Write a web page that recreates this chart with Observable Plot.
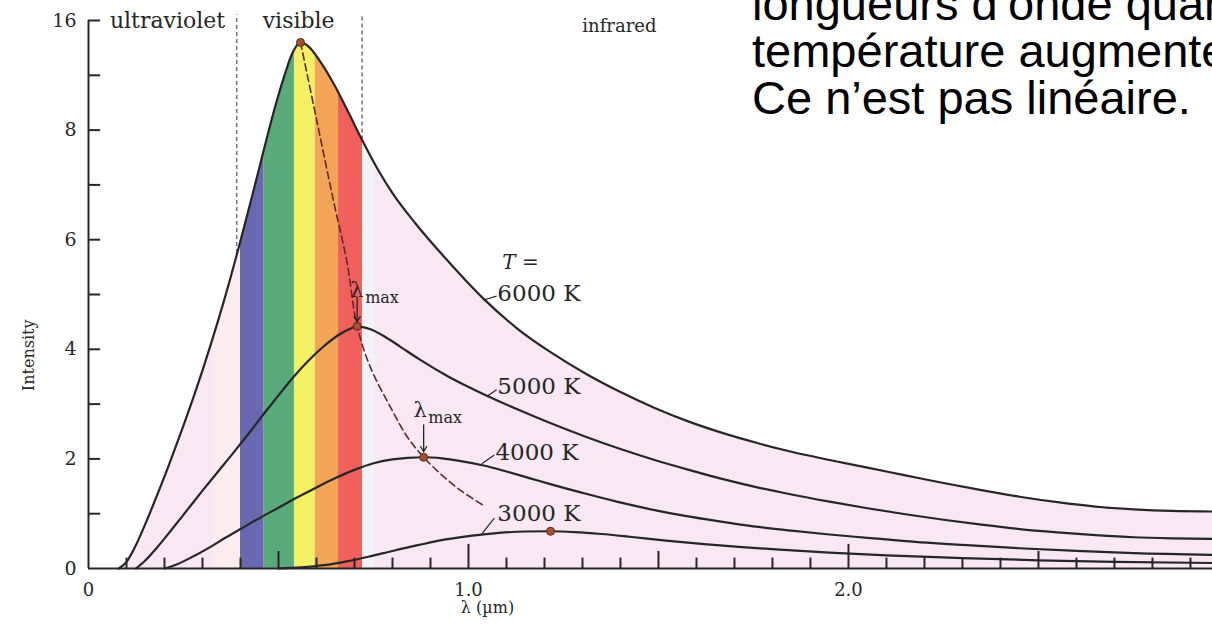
<!DOCTYPE html>
<html><head><meta charset="utf-8">
<script src="https://cdn.jsdelivr.net/npm/d3@7"></script>
<script src="https://cdn.jsdelivr.net/npm/@observablehq/plot@0.6"></script>
<style>
html,body{margin:0;padding:0;background:#fff;overflow:hidden;width:1212px;height:628px;}
#wrap{position:relative;width:1212px;height:628px;overflow:hidden;}
#note{position:absolute;left:752px;top:-20px;font-family:"Liberation Sans",Arial,sans-serif;font-size:47px;line-height:47px;color:#000;white-space:nowrap;}
</style></head><body>
<div id="wrap"><div id="chart"></div>
<div id="note"><div>longueurs d’onde quand la</div><div>température augmente.</div><div>Ce n’est pas linéaire.</div></div>
</div>
<script>
// ---- data: [wavelength (µm), intensity] ----
const curve6000 = [[0.08,0],[0.10,0.12],[0.12,0.36],[0.15,0.82],[0.18,1.33],[0.21,1.86],[0.24,2.42],[0.28,3.2],[0.32,4.05],[0.36,4.97],[0.40,5.98],[0.43,6.78],[0.46,7.6],[0.49,8.4],[0.515,8.98],[0.535,9.38],[0.558,9.6],[0.58,9.52],[0.61,9.25],[0.645,8.85],[0.68,8.38],[0.72,7.82],[0.76,7.3],[0.80,6.85],[0.86,6.3],[0.95,5.58],[1.04,4.92],[1.13,4.37],[1.22,3.93],[1.31,3.55],[1.40,3.22],[1.49,2.93],[1.58,2.68],[1.67,2.47],[1.76,2.29],[1.85,2.13],[1.95,1.98],[2.05,1.84],[2.15,1.70],[2.25,1.56],[2.35,1.43],[2.45,1.31],[2.55,1.21],[2.65,1.13],[2.75,1.08],[2.85,1.05],[2.96,1.04]];
const curve5000 = [[0.125,0],[0.15,0.15],[0.18,0.38],[0.22,0.72],[0.26,1.07],[0.30,1.42],[0.34,1.76],[0.38,2.1],[0.42,2.45],[0.46,2.81],[0.50,3.16],[0.54,3.5],[0.58,3.8],[0.62,4.06],[0.66,4.27],[0.69,4.38],[0.707,4.42],[0.74,4.37],[0.78,4.23],[0.82,4.05],[0.87,3.82],[0.95,3.49],[1.04,3.18],[1.13,2.9],[1.22,2.64],[1.31,2.4],[1.40,2.18],[1.49,1.98],[1.58,1.8],[1.67,1.63],[1.76,1.48],[1.85,1.35],[1.95,1.22],[2.05,1.1],[2.15,0.99],[2.25,0.89],[2.35,0.8],[2.45,0.72],[2.55,0.66],[2.65,0.61],[2.75,0.57],[2.85,0.55],[2.96,0.54]];
const curve4000 = [[0.20,0],[0.23,0.07],[0.27,0.2],[0.32,0.39],[0.36,0.56],[0.40,0.72],[0.45,0.92],[0.50,1.11],[0.55,1.3],[0.60,1.48],[0.65,1.65],[0.70,1.8],[0.75,1.92],[0.80,1.99],[0.84,2.02],[0.882,2.03],[0.93,2.01],[0.98,1.96],[1.04,1.88],[1.10,1.77],[1.16,1.65],[1.22,1.53],[1.30,1.38],[1.39,1.22],[1.48,1.08],[1.57,0.96],[1.66,0.86],[1.75,0.77],[1.85,0.69],[1.95,0.62],[2.05,0.56],[2.15,0.5],[2.30,0.43],[2.45,0.37],[2.60,0.32],[2.75,0.28],[2.96,0.25]];
const curve3000 = [[0.50,0],[0.56,0.02],[0.62,0.06],[0.68,0.13],[0.74,0.22],[0.80,0.32],[0.87,0.43],[0.94,0.53],[1.01,0.6],[1.08,0.65],[1.15,0.675],[1.216,0.68],[1.28,0.665],[1.35,0.63],[1.43,0.575],[1.52,0.51],[1.62,0.445],[1.72,0.39],[1.83,0.34],[1.95,0.29],[2.1,0.24],[2.3,0.19],[2.5,0.15],[2.7,0.12],[2.96,0.1]];
const lambdaMaxPath = [[0.558,9.6],[0.60,8.2],[0.645,6.7],[0.68,5.6],[0.707,4.42],[0.742,3.67],[0.795,2.94],[0.84,2.39],[0.882,2.03],[0.926,1.73],[0.98,1.42],[1.04,1.15]];
const peaks = [[0.558,9.6],[0.707,4.42],[0.882,2.03],[1.216,0.68]];
const temperatures = ["6000 K","5000 K","4000 K","3000 K"];
const bandEdges = [0.40,0.461,0.542,0.597,0.658,0.721];
const bandNames = ["violet","green","yellow","orange","red"];
const regionBounds = [0.39,0.72];
const regionNames = ["ultraviolet","visible","infrared"];
const yTickValues = [0,2,4,6,8,10];
const yTickLabels = ["0","2","4","6","8","16"];
const xTickValues = [0,1,2,3];
const xTickLabels = ["0","1.0","2.0","3.0"];

// ---- styles ----
const bandColor = {violet:"#6b68b2", green:"#59ab7a", yellow:"#f3f064", orange:"#f4a457", red:"#f0615d"};
const ink = "#262626";
const X = d => d[0], Y = d => d[1];
const sm = "monotone-x";

const bands = bandNames.map((n,i)=>({n, x1:bandEdges[i], x2:bandEdges[i+1]}));
const xMinor = d3.range(1,30).map(i=>({v:i/10, len: i%10===0 ? 0.44 : (i%5===0 ? 0.31 : 0.19)}));
const yMinor = d3.range(1,11);
const tlab = [
  {x:1.076, y:5.02, lx1:1.074, ly1:4.97, lx2:1.040, ly2:4.90},
  {x:1.076, y:3.31, lx1:1.074, ly1:3.26, lx2:1.050, ly2:3.15},
  {x:1.071, y:2.12, lx1:1.068, ly1:2.07, lx2:1.035, ly2:1.91},
  {x:1.076, y:1.00, lx1:1.068, ly1:0.92, lx2:1.035, ly2:0.63}
].map((d,i)=>({...d, t: temperatures[i]}));

const chart = Plot.plot({
  width:1212, height:628,
  marginLeft:88, marginRight:0, marginTop:20, marginBottom:60,
  x:{domain:[0,2.958], axis:null},
  y:{domain:[0,10], axis:null},
  color:{type:"identity"},
  style:{fontFamily:"'DejaVu Serif', serif", background:"transparent", color:ink},
  marks:[
    Plot.areaY(curve6000,{x:X, y:Y, fill:"#f9e8f4", curve:sm}),
    Plot.rectY([{x1:0.33,x2:0.40}],{x1:"x1",x2:"x2",y1:0,y2:10,fill:"#fcebef"}),
    Plot.rectY([{x1:0.721,x2:0.755}],{x1:"x1",x2:"x2",y1:0,y2:10,fill:"#f3f2f8"}),
    Plot.rectY(bands,{x1:"x1", x2:"x2", y1:0, y2:10, fill:d=>bandColor[d.n]}),
    Plot.areaY(curve6000,{x:X, y1:Y, y2:10.4, fill:"white", curve:sm}),
    // region boundaries
    Plot.ruleX(regionBounds,{x:d=>d, y1:(d,i)=>i===0?5.75:7.82, y2:10.1, stroke:"#777", strokeWidth:1.6, strokeDasharray:"4,3"}),
    // axes lines and inward ticks
    Plot.ruleX([0],{y1:0, y2:10, stroke:ink, strokeWidth:2}),
    Plot.ruleY([0],{x1:0, x2:2.958, stroke:ink, strokeWidth:2}),
    Plot.ruleY(yMinor,{y:d=>d, x1:0, x2:0.032, stroke:ink, strokeWidth:2}),
    Plot.ruleX(xMinor,{x:"v", y1:0, y2:"len", stroke:ink, strokeWidth:2}),
    Plot.axisY(yTickValues,{anchor:"left", tickSize:0, tickPadding:12, fontSize:19, label:null, tickFormat:d=>yTickLabels[yTickValues.indexOf(d)]}),
    Plot.axisX(xTickValues,{anchor:"bottom", tickSize:0, tickPadding:15, fontSize:18, label:null, tickFormat:d=>xTickLabels[xTickValues.indexOf(d)]}),
    Plot.text(["λ (µm)"],{x:1.05, y:0, dy:39, text:d=>d, fontSize:16, fill:ink}),
    Plot.text(["Intensity"],{x:-0.158, y:3.89, text:d=>d, rotate:-90, fontSize:16, fill:ink}),
    // curves
    Plot.line(curve6000,{x:X, y:Y, stroke:ink, strokeWidth:2.2, curve:sm}),
    Plot.line(curve5000,{x:X, y:Y, stroke:ink, strokeWidth:2.2, curve:sm}),
    Plot.line(curve4000,{x:X, y:Y, stroke:ink, strokeWidth:2.2, curve:sm}),
    Plot.line(curve3000,{x:X, y:Y, stroke:ink, strokeWidth:2.2, curve:sm}),
    Plot.line(lambdaMaxPath,{x:X, y:Y, stroke:"#5e2a22", strokeWidth:1.6, strokeDasharray:"7,4", curve:"catmull-rom"}),
    Plot.dot(peaks,{x:X, y:Y, r:4, fill:"#a5502f", stroke:"#5a2a1a", strokeWidth:1}),
    // λmax annotations
    Plot.arrow([{x:0.707,y1:4.95,y2:4.5},{x:0.882,y1:2.62,y2:2.13}],{x1:"x", x2:"x", y1:"y1", y2:"y2", stroke:ink, strokeWidth:1.3, headLength:7}),
    Plot.text([{x:0.689,y:5.08},{x:0.855,y:2.89}],{x:"x", y:"y", text:()=>"λ", textAnchor:"start", fontSize:21, fill:ink}),
    Plot.text([{x:0.728,y:4.93},{x:0.894,y:2.74}],{x:"x", y:"y", text:()=>"max", textAnchor:"start", fontSize:16, fill:ink}),
    // temperature labels
    Plot.text(["T ="],{x:1.089, y:5.59, text:d=>d, textAnchor:"start", fontSize:20, fontStyle:"italic", fill:ink}),
    Plot.link(tlab,{x1:"lx1", y1:"ly1", x2:"lx2", y2:"ly2", stroke:ink, strokeWidth:1.2}),
    Plot.text(tlab,{x:"x", y:"y", text:"t", textAnchor:"start", fontSize:23, fill:ink}),
    // region labels
    Plot.text(regionNames,{x:(d,i)=>[0.208,0.553,1.397][i], y:(d,i)=>i===2?9.9:10.0, text:d=>d, fontSize:(d,i)=>i===2?18:22, fill:ink})
  ]
});
document.getElementById("chart").appendChild(chart);
</script>
</body></html>
